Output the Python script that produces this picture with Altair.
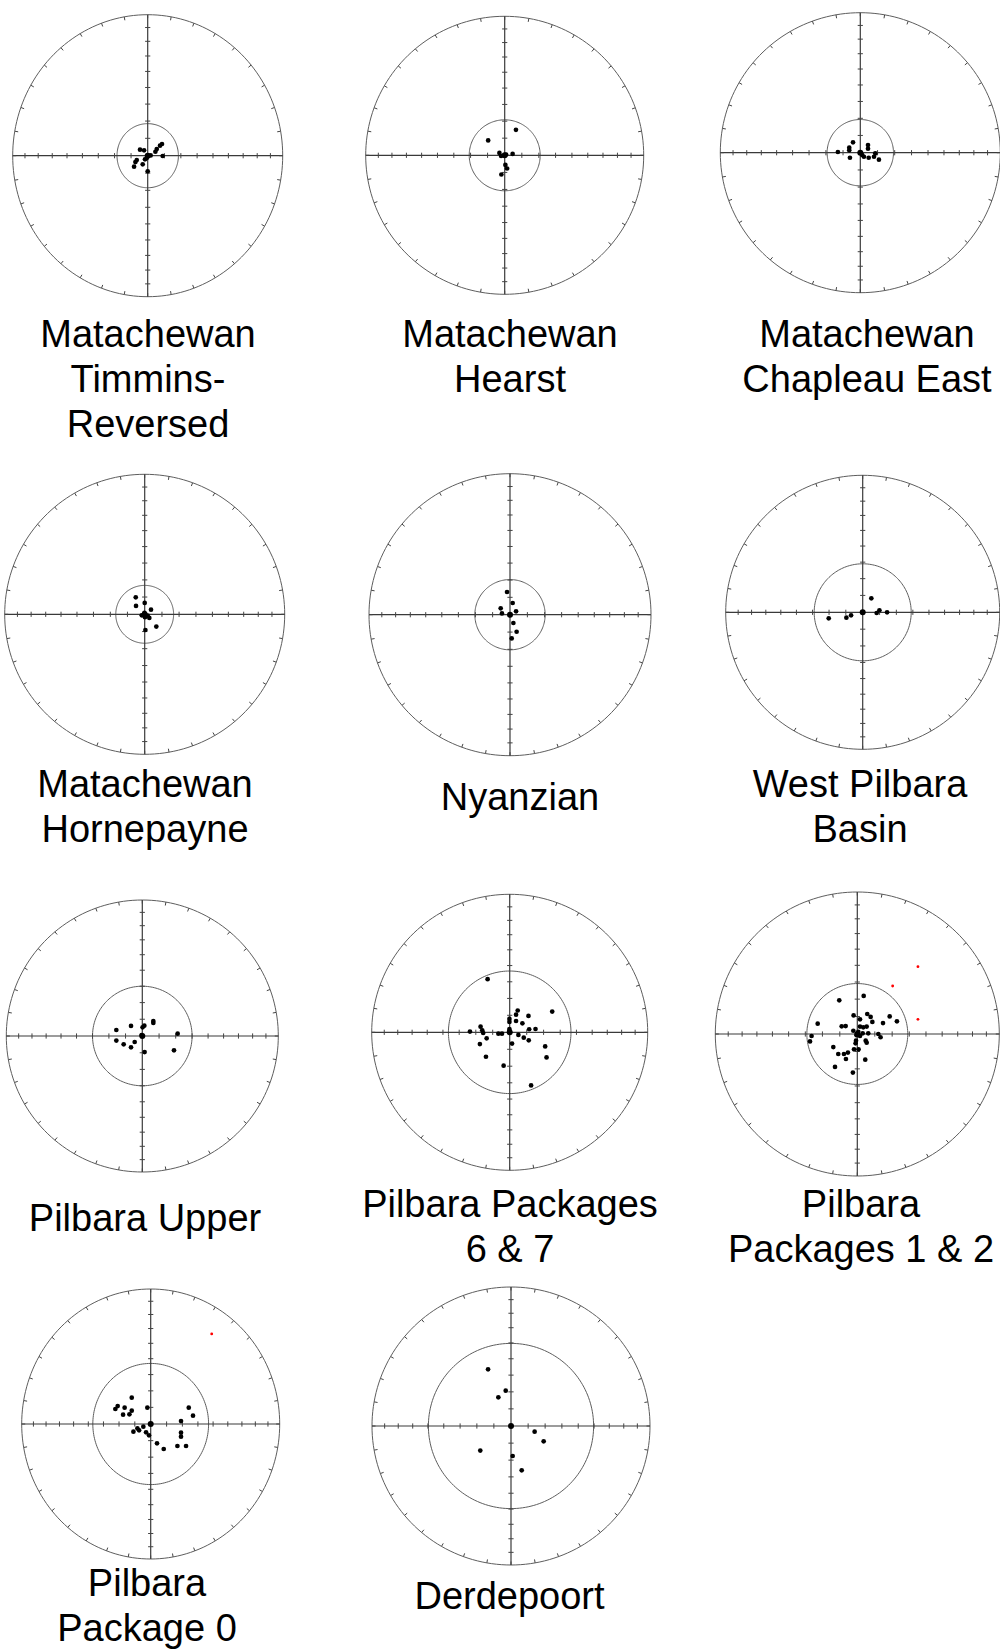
import math
import pandas as pd
import altair as alt

W, H = 1000, 1649

# ---- panel titles (one entry per text line) ----
titles = [
    ["Matachewan", "Timmins-", "Reversed"],
    ["Matachewan", "Hearst"],
    ["Matachewan", "Chapleau East"],
    ["Matachewan", "Hornepayne"],
    ["Nyanzian"],
    ["West Pilbara", "Basin"],
    ["Pilbara Upper"],
    ["Pilbara Packages", "6 & 7"],
    ["Pilbara", "Packages 1 & 2"],
    ["Pilbara", "Package 0"],
    ["Derdepoort"],
]

# cutoff angle (degrees from the mean) drawn as the inner circle
cutoff_deg = [18.5, 20.8, 19.3, 16.8, 20.3, 29.0, 30.0, 36.6, 29.1, 37.0, 49.7]

# ---- site directions in net coordinates (fraction of the primitive radius) ----
p1_x = [-0.057, -0.027, 0.106, 0.091, 0.067, 0.057, 0.111, 0.022, -0.007, -0.020, -0.037, -0.081, -0.091, -0.101, 0.000]
p1_y = [0.043, 0.038, 0.083, 0.071, 0.047, 0.028, -0.002, 0.002, -0.017, -0.026, -0.061, -0.031, -0.045, -0.078, -0.111]

p2_x = [0.081, -0.119, -0.038, -0.026, 0.010, 0.057, 0.005, 0.017, -0.024]
p2_y = [0.183, 0.107, 0.017, -0.005, 0.005, 0.010, -0.069, -0.095, -0.138]

p3_x = [-0.160, -0.052, -0.079, -0.079, -0.074, 0.014, 0.026, 0.055, 0.055, 0.060, 0.098, 0.107, 0.133]
p3_y = [0.005, 0.074, 0.036, 0.017, -0.036, -0.017, -0.029, 0.055, 0.029, -0.036, -0.029, -0.005, -0.050]

p4_x = [-0.064, -0.062, 0.000, 0.045, -0.021, -0.002, 0.002, 0.021, 0.033, 0.083, 0.005]
p4_y = [0.121, 0.060, 0.081, 0.033, -0.007, 0.010, -0.021, -0.010, -0.026, -0.088, -0.112]

p5_x = [-0.021, 0.019, -0.066, -0.057, 0.043, 0.024, 0.047, 0.012]
p5_y = [0.161, 0.083, 0.045, 0.009, 0.024, -0.059, -0.121, -0.168]

p6_x = [0.063, -0.248, -0.119, -0.085, 0.102, 0.122, 0.178]
p6_y = [0.102, -0.044, -0.039, -0.022, -0.005, 0.015, 0.000]

p7_x = [-0.191, -0.191, -0.137, -0.083, -0.083, -0.056, 0.002, 0.015, -0.005, 0.081, 0.081, 0.260, 0.017, 0.233]
p7_y = [0.044, -0.034, -0.061, 0.074, -0.083, -0.044, 0.064, 0.076, 0.007, 0.110, 0.096, 0.017, -0.118, -0.105]

p8_x = [-0.160, 0.308, 0.058, 0.046, 0.136, -0.002, -0.002, 0.046, 0.092, -0.211,
        -0.199, -0.192, -0.288, -0.082, -0.056, -0.002, -0.002, 0.063, 0.141, 0.187,
        0.102, 0.138, -0.167, -0.216, 0.017, 0.257, 0.267, -0.172, -0.044, 0.155]
p8_y = [0.385, 0.150, 0.158, 0.128, 0.119, 0.097, 0.075, 0.082, 0.065, 0.041,
        0.015, -0.005, 0.005, -0.010, -0.010, 0.024, 0.010, -0.019, 0.022, 0.024,
        -0.039, -0.058, -0.044, -0.085, -0.082, -0.102, -0.182, -0.177, -0.242, -0.385]

p9_x = [-0.127, 0.045, -0.026, 0.019, 0.070, 0.094, 0.106, 0.228, 0.279, 0.181,
        -0.279, -0.110, -0.082, 0.019, 0.042, 0.066, -0.028, 0.007, 0.038, 0.077,
        -0.005, 0.019, 0.148, 0.164, 0.059, 0.066, -0.009, -0.012, -0.322, -0.333,
        -0.169, -0.134, -0.094, -0.066, -0.080, -0.023, 0.009, 0.056, -0.157, -0.031]
p9_y = [0.237, 0.268, 0.131, 0.103, 0.141, 0.120, 0.085, 0.124, 0.089, 0.077,
        0.073, 0.054, 0.056, 0.052, 0.047, 0.052, 0.023, 0.016, 0.005, 0.005,
        -0.009, -0.014, 0.000, -0.023, -0.047, -0.061, -0.047, -0.066, -0.014, -0.052,
        -0.092, -0.141, -0.141, -0.131, -0.176, -0.108, -0.108, -0.181, -0.232, -0.272]

p10_x = [-0.147, -0.256, -0.274, -0.202, -0.147, -0.214, -0.165, -0.026, 0.295, 0.328,
         0.235, -0.057, -0.103, -0.090, -0.134, -0.036, -0.013, 0.235, 0.235, 0.049,
         0.101, 0.207, 0.274]
p10_y = [0.195, 0.133, 0.111, 0.121, 0.099, 0.069, 0.072, 0.121, 0.121, 0.062,
         0.022, -0.020, -0.032, -0.047, -0.057, -0.062, -0.084, -0.064, -0.094, -0.143,
         -0.185, -0.163, -0.163]

p11_x = [-0.165, -0.038, -0.091, 0.170, 0.235, -0.221, 0.012, 0.077]
p11_y = [0.408, 0.254, 0.206, -0.041, -0.110, -0.177, -0.216, -0.319]

# rejected sites (beyond the cutoff)
rej9_x = [0.427, 0.249, 0.427]
rej9_y = [0.474, 0.338, 0.103]
rej10_x = [0.473]
rej10_y = [0.667]

sites_x = [p1_x, p2_x, p3_x, p4_x, p5_x, p6_x, p7_x, p8_x, p9_x, p10_x, p11_x]
sites_y = [p1_y, p2_y, p3_y, p4_y, p5_y, p6_y, p7_y, p8_y, p9_y, p10_y, p11_y]
rejected = {8: (rej9_x, rej9_y), 9: (rej10_x, rej10_y)}

# ---- page layout of the nets ----
centers_x = [147.7, 504.7, 860.3, 144.7, 510.0, 862.7, 142.3, 509.7, 857.3, 150.7, 511.0]
centers_y = [155.7, 155.3, 152.7, 614.3, 614.7, 612.3, 1036.0, 1032.3, 1034.0, 1424.0, 1426.0]
radius_x = [135, 139, 140, 140, 141, 137, 136, 138, 142, 129, 139]
radius_y = [141, 139, 140, 140, 141, 137, 136, 138, 142, 135, 139]
label_x = [148, 510, 867, 145, 520, 860, 145, 510, 861, 147, 509.5]
label_y = [336, 336, 336, 785.5, 799, 785.5, 1219.7, 1206, 1206, 1584.5, 1598]
LINE_H = 45
TICK = 2.6
RIM_TICK = 3.5


def equal_area(deg):
    """Radius on a Schmidt (equal-area) net for an angle from the centre."""
    return math.sqrt(2.0) * math.sin(math.radians(deg) / 2.0)


rings, rules, ticks, sites, means, rejects, labels = [], [], [], [], [], [], []
for p in range(len(titles)):
    cx, cy, rx, ry = centers_x[p], centers_y[p], radius_x[p], radius_y[p]
    # primitive circle and cutoff circle
    for ring, rn in (("outer", 1.0), ("inner", equal_area(cutoff_deg[p]))):
        for k in range(0, 361, 2):
            t = math.radians(k)
            rings.append({"cid": f"{p}-{ring}", "k": k,
                          "x": cx + rx * rn * math.cos(t), "y": cy - ry * rn * math.sin(t)})
    # cross-hair axes
    rules.append({"x": cx - rx, "x2": cx + rx, "y": cy, "y2": cy})
    rules.append({"x": cx, "x2": cx, "y": cy - ry, "y2": cy + ry})
    # 10-degree graduations along the axes
    for d in range(10, 90, 10):
        r = equal_area(d)
        for s in (-1, 1):
            ticks.append({"x": cx + s * rx * r, "x2": cx + s * rx * r, "y": cy - TICK, "y2": cy + TICK})
            ticks.append({"x": cx - TICK, "x2": cx + TICK, "y": cy + s * ry * r, "y2": cy + s * ry * r})
    # 10-degree graduations round the primitive
    for az in range(0, 360, 10):
        t = math.radians(az)
        ticks.append({"x": cx + rx * math.cos(t), "x2": cx + (rx - RIM_TICK) * math.cos(t),
                      "y": cy - ry * math.sin(t), "y2": cy - (ry - RIM_TICK) * math.sin(t)})
    # directions
    for ux, uy in zip(sites_x[p], sites_y[p]):
        sites.append({"x": cx + rx * ux, "y": cy - ry * uy})
    means.append({"x": cx, "y": cy})
    if p in rejected:
        for ux, uy in zip(*rejected[p]):
            rejects.append({"x": cx + rx * ux, "y": cy - ry * uy})
    # title lines
    for i, line in enumerate(titles[p]):
        labels.append({"x": label_x[p], "y": label_y[p] + i * LINE_H, "text": line})

xs = alt.Scale(domain=[0, W], range=[0, W], nice=False, zero=False)
ys = alt.Scale(domain=[0, H], range=[0, H], nice=False, zero=False)


def X(f):
    return alt.X(f, scale=xs, axis=None)


def Y(f):
    return alt.Y(f, scale=ys, axis=None)


ring_layer = alt.Chart(pd.DataFrame(rings)).mark_line(
    color="#5e5e5e", strokeWidth=1, interpolate="linear"
).encode(x=X("x:Q"), y=Y("y:Q"), detail="cid:N", order="k:Q")

axis_layer = alt.Chart(pd.DataFrame(rules)).mark_rule(color="#3a3a3a", strokeWidth=1.2).encode(
    x=X("x:Q"), x2="x2:Q", y=Y("y:Q"), y2="y2:Q"
)

tick_layer = alt.Chart(pd.DataFrame(ticks)).mark_rule(color="#444444", strokeWidth=1).encode(
    x=X("x:Q"), x2="x2:Q", y=Y("y:Q"), y2="y2:Q"
)

site_layer = alt.Chart(pd.DataFrame(sites)).mark_circle(
    color="#000000", opacity=1, size=22
).encode(x=X("x:Q"), y=Y("y:Q"))

mean_layer = alt.Chart(pd.DataFrame(means)).mark_circle(
    color="#000000", opacity=1, size=36
).encode(x=X("x:Q"), y=Y("y:Q"))

reject_layer = alt.Chart(pd.DataFrame(rejects)).mark_circle(
    color="#ff0000", opacity=1, size=8
).encode(x=X("x:Q"), y=Y("y:Q"))

label_layer = alt.Chart(pd.DataFrame(labels)).mark_text(
    font="Liberation Sans", fontSize=38, align="center", baseline="middle", color="#000000"
).encode(x=X("x:Q"), y=Y("y:Q"), text="text:N")

chart = alt.layer(
    ring_layer, axis_layer, tick_layer, site_layer, mean_layer, reject_layer, label_layer
).properties(
    width=W, height=H, padding=0, autosize=alt.AutoSizeParams(type="none")
).configure_view(stroke=None)

chart.save("out.html", embed_options={"renderer": "svg", "actions": False})
